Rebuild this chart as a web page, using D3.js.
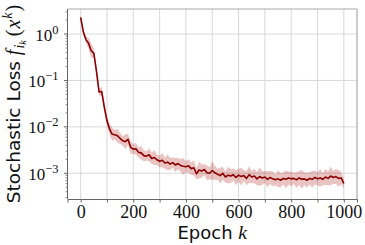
<!DOCTYPE html>
<html>
<head>
<meta charset="utf-8">
<script src="https://cdn.jsdelivr.net/npm/d3@7"></script>
<style>
  body { margin: 0; background: #fff; }
  svg { display: block; }
</style>
</head>
<body>
<svg id="chart" width="365" height="245"></svg>
<script>
const epochs = d3.range(0, 1001, 10)
const log10Loss = [
  0.36, 0.05, -0.12, -0.20, -0.36, -0.41, -0.80, -1.25, -1.24, -1.58,
  -1.87, -2.05, -2.16, -2.17, -2.19, -2.25, -2.30, -2.32, -2.27, -2.44,
  -2.48, -2.47, -2.55, -2.56, -2.62, -2.63, -2.60, -2.68, -2.66, -2.71,
  -2.74, -2.72, -2.78, -2.76, -2.80, -2.77, -2.82, -2.79, -2.83, -2.85,
  -2.86, -2.84, -2.90, -2.88, -3.01, -2.93, -2.95, -2.92, -2.99, -3.00,
  -2.94, -2.99, -3.02, -3.05, -3.00, -3.08, -3.04, -3.06, -3.03, -3.09,
  -3.04, -3.07, -3.05, -3.11, -3.03, -3.08, -3.06, -3.12, -3.07, -3.10,
  -3.08, -3.13, -3.09, -3.12, -3.14, -3.12, -3.15, -3.11, -3.13, -3.10,
  -3.12, -3.11, -3.14, -3.10, -3.13, -3.12, -3.15, -3.11, -3.13, -3.09,
  -3.12, -3.10, -3.13, -3.08, -3.11, -3.06, -3.09, -3.07, -3.11, -3.10,
  -3.22
]
// half width of the shaded band, in decades
const spread = [
  0.04, 0.05, 0.06, 0.12, 0.15, 0.10, 0.08, 0.07, 0.10, 0.08,
  0.10, 0.12, 0.14, 0.10, 0.15, 0.12, 0.10, 0.16, 0.12, 0.14,
  0.10, 0.13, 0.11, 0.15, 0.12, 0.10, 0.14, 0.12, 0.16, 0.11,
  0.13, 0.15, 0.12, 0.17, 0.13, 0.11, 0.15, 0.12, 0.14, 0.18,
  0.12, 0.15, 0.13, 0.16, 0.12, 0.18, 0.14, 0.12, 0.16, 0.13,
  0.20, 0.15, 0.12, 0.17, 0.14, 0.12, 0.18, 0.15, 0.13, 0.16,
  0.14, 0.19, 0.12, 0.15, 0.18, 0.13, 0.16, 0.14, 0.20, 0.15,
  0.13, 0.17, 0.14, 0.16, 0.12, 0.18, 0.15, 0.13, 0.19, 0.14,
  0.16, 0.12, 0.17, 0.15, 0.20, 0.14, 0.16, 0.13, 0.18, 0.15,
  0.14, 0.19, 0.13, 0.17, 0.15, 0.20, 0.14, 0.16, 0.18, 0.13,
  0.10
]
const xTicks = d3.range(0, 1001, 100)
const xLabels = [0, 200, 400, 600, 800, 1000]
const yDecades = [-3, -2, -1, 0]

const svg = d3.select('#chart')
const mLeft = 67.5, mRight = 357, mTop = 9, mBottom = 199

const x = d3.scaleLinear().domain([-50, 1050]).range([mLeft, mRight])
const y = d3.scaleLog().domain([10 ** -3.554, 10 ** 0.539]).range([mBottom, mTop])

const data = epochs.map((e, i) => ({
  e,
  v: 10 ** log10Loss[i],
  lo: 10 ** (log10Loss[i] - spread[i]),
  hi: 10 ** (log10Loss[i] + spread[i])
}))

// grid
svg.append('g')
  .selectAll('line')
  .data(xTicks)
  .enter().append('line')
    .attr('x1', d => x(d)).attr('x2', d => x(d))
    .attr('y1', mTop).attr('y2', mBottom)
    .attr('stroke', '#d4d4d4').attr('stroke-width', 0.9)
svg.append('g')
  .selectAll('line')
  .data(yDecades)
  .enter().append('line')
    .attr('x1', mLeft).attr('x2', mRight)
    .attr('y1', d => y(10 ** d)).attr('y2', d => y(10 ** d))
    .attr('stroke', '#d4d4d4').attr('stroke-width', 0.9)

// band + line
svg.append('path')
  .datum(data)
  .attr('fill', '#b22222')
  .attr('fill-opacity', 0.27)
  .attr('d', d3.area().x(d => x(d.e)).y0(d => y(d.lo)).y1(d => y(d.hi)))

svg.append('path')
  .datum(data)
  .attr('fill', 'none')
  .attr('stroke', '#8b0000')
  .attr('stroke-width', 1.6)
  .attr('stroke-linejoin', 'round')
  .attr('d', d3.line().x(d => x(d.e)).y(d => y(d.v)))

// spines
svg.append('line').attr('x1', mLeft).attr('x2', mRight).attr('y1', mTop).attr('y2', mTop)
  .attr('stroke', '#aaa').attr('stroke-width', 1.2)
svg.append('line').attr('x1', mRight).attr('x2', mRight).attr('y1', mTop).attr('y2', mBottom)
  .attr('stroke', '#aaa').attr('stroke-width', 1.2)

// x axis
const xAxis = svg.append('g')
  .attr('transform', `translate(0,${mBottom})`)
  .call(d3.axisBottom(x).tickValues(xTicks).tickSize(3.5).tickPadding(3)
    .tickFormat(d => xLabels.includes(d) ? d : ''))
xAxis.select('.domain').attr('stroke', '#666')
xAxis.selectAll('.tick line').attr('stroke', '#666')
xAxis.selectAll('text')
  .attr('font-family', 'Liberation Serif, serif')
  .attr('font-size', 18)
  .attr('fill', '#111')

// y axis: minor ticks
const minors = []
for (let p = -4; p <= 0; p++) {
  for (let m = 2; m <= 9; m++) {
    const v = m * 10 ** p
    if (v >= y.domain()[0] && v <= y.domain()[1]) minors.push(v)
  }
}
const yAxis = svg.append('g').attr('transform', `translate(${mLeft},0)`)
yAxis.append('line').attr('y1', mTop).attr('y2', mBottom).attr('stroke', '#666')
yAxis.selectAll('.minor')
  .data(minors)
  .enter().append('line')
    .attr('x1', -2).attr('x2', 0)
    .attr('y1', d => y(d)).attr('y2', d => y(d))
    .attr('stroke', '#666').attr('stroke-width', 0.7)
yAxis.selectAll('.major')
  .data(yDecades)
  .enter().append('line')
    .attr('x1', -3.5).attr('x2', 0)
    .attr('y1', d => y(10 ** d)).attr('y2', d => y(10 ** d))
    .attr('stroke', '#666')
const yLab = yAxis.selectAll('.lab')
  .data(yDecades)
  .enter().append('text')
    .attr('x', -9)
    .attr('y', d => y(10 ** d) + 6.5)
    .attr('text-anchor', 'end')
    .attr('font-family', 'Liberation Serif, serif')
    .attr('font-size', 17)
    .attr('fill', '#111')
yLab.append('tspan').text('10')
yLab.append('tspan')
  .attr('dy', -7)
  .attr('font-size', 12.5)
  .text(d => d === 0 ? '0' : '\u2212' + (-d))

// axis labels
const xl = svg.append('text')
  .attr('x', (mLeft + mRight) / 2)
  .attr('y', 239)
  .attr('text-anchor', 'middle')
  .attr('font-family', 'DejaVu Sans, sans-serif')
  .attr('font-size', 18)
  .attr('fill', '#111')
xl.append('tspan').text('Epoch ')
xl.append('tspan')
  .attr('font-family', 'Liberation Serif, serif')
  .attr('font-style', 'italic')
  .attr('font-size', 19.5)
  .text('k')

const yl = svg.append('text')
  .attr('transform', `translate(19.5,${(mTop + mBottom) / 2}) rotate(-90)`)
  .attr('text-anchor', 'middle')
  .attr('font-family', 'DejaVu Sans, sans-serif')
  .attr('font-size', 18.5)
  .attr('fill', '#111')
yl.append('tspan').text('Stochastic Loss ')
const serif = s => s.attr('font-family', 'Liberation Serif, serif').attr('font-style', 'italic')
yl.append('tspan').call(serif).attr('font-size', 20).text('f')
yl.append('tspan').call(serif).attr('font-size', 14).attr('dy', 4).attr('dx', 1).text('i')
yl.append('tspan').call(serif).attr('font-size', 10).attr('dy', 2.5).text('k')
yl.append('tspan').call(serif).attr('font-style', 'normal').attr('font-size', 20)
  .attr('dy', -6.5).attr('dx', 4).text('(')
yl.append('tspan').call(serif).attr('font-size', 20).attr('dx', 1).text('x')
yl.append('tspan').call(serif).attr('font-size', 14).attr('dy', -8).attr('dx', 1).text('k')
yl.append('tspan').call(serif).attr('font-style', 'normal').attr('font-size', 20)
  .attr('dy', 8).attr('dx', 1).text(')')
</script>
</body>
</html>
